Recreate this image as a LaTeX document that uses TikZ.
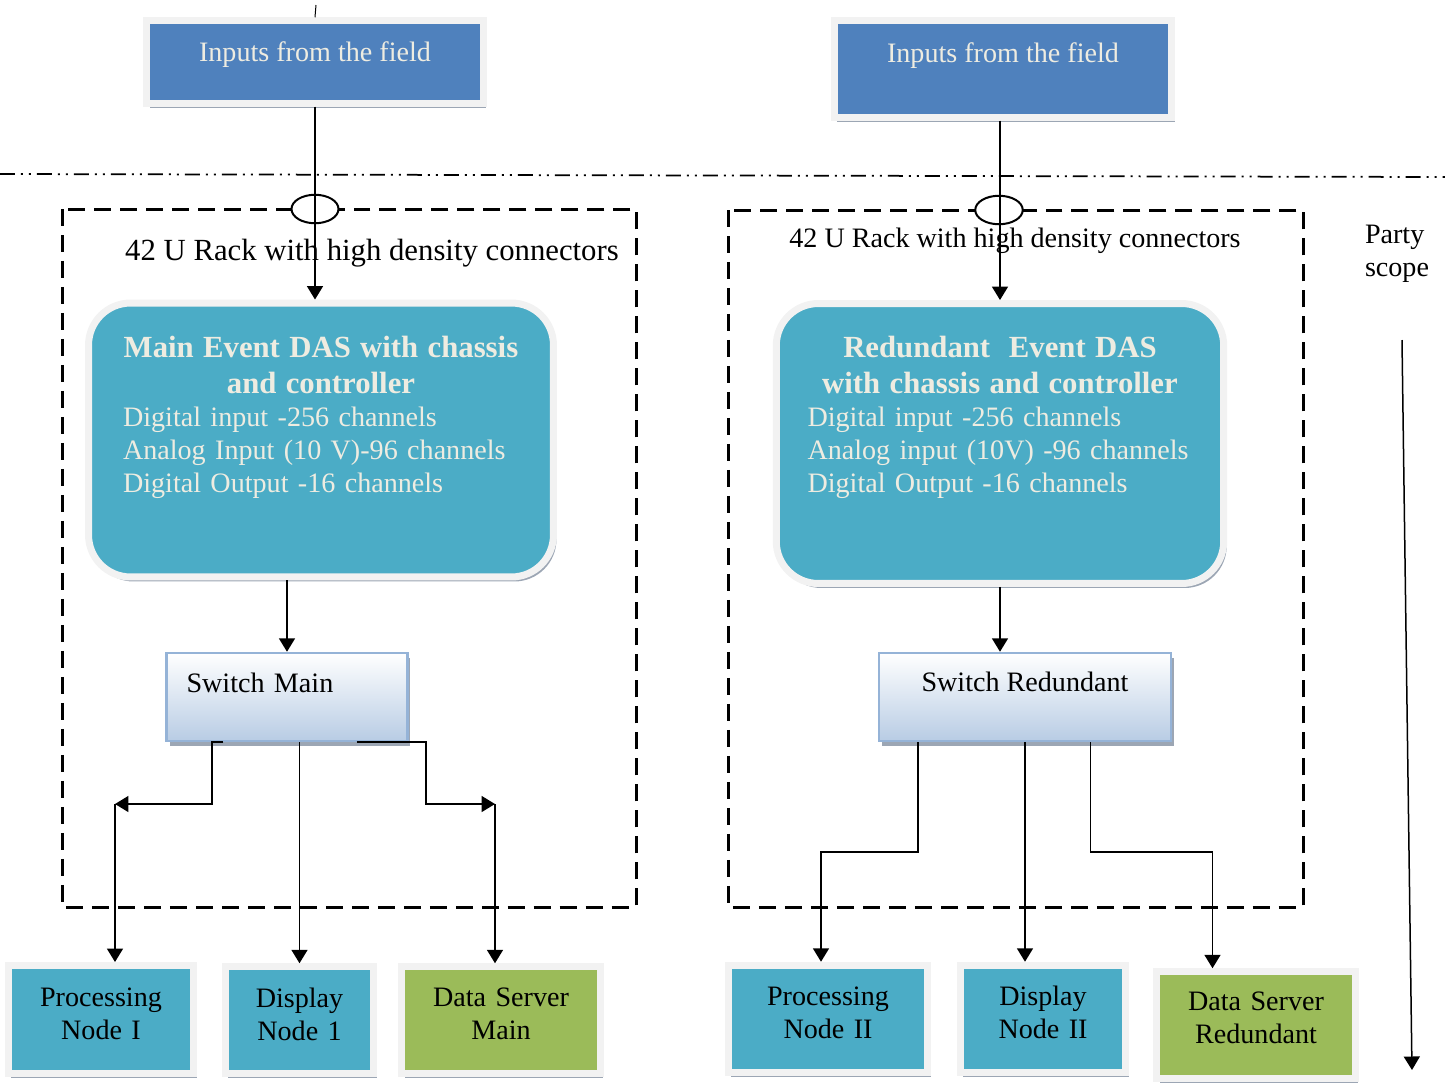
\documentclass[tikz,border=0pt]{standalone}
\usepackage{fontspec}
\setmainfont{Liberation Serif}
\usepackage{tikz}
\usetikzlibrary{positioning,shapes,arrows.meta,shadows,calc}

\definecolor{inblue}{HTML}{4F81BD}
\definecolor{dasteal}{HTML}{4BACC6}
\definecolor{srvgreen}{HTML}{9BBB59}
\definecolor{framegray}{HTML}{F2F2F2}
\definecolor{shadowgray}{HTML}{9CA6B4}
\definecolor{cream}{HTML}{EEECE1}
\definecolor{swbottom}{HTML}{B8CCE4}
\definecolor{swline}{HTML}{95B3D7}

\newcommand{\bodyfont}{\fontsize{16}{18.8}\selectfont}
\newcommand{\headfont}{\fontsize{17.5}{20.5}\selectfont\bfseries}

\tikzstyle{framed}=[%
      rectangle, draw=framegray, line width=0.14cm, inner ysep=0pt,
      drop shadow={shadow xshift=0.06cm, shadow yshift=-0.09cm, fill=shadowgray, opacity=1}
]
\tikzstyle{inbox}=[framed, fill=inblue, text=cream]
\tikzstyle{dasbox}=[framed, fill=dasteal, text=cream, rounded corners=0.84cm, align=left]
\tikzstyle{swbox}=[%
      rectangle, draw=swline, line width=0.05cm, top color=white, bottom color=swbottom,
      drop shadow={shadow xshift=0.06cm, shadow yshift=-0.1cm, fill=shadowgray, opacity=1},
      inner ysep=0pt, minimum height=1.76cm
]
\tikzstyle{nodebox}=[framed, fill=dasteal, align=center, inner xsep=0.1cm]
\tikzstyle{srvbox}=[framed, fill=srvgreen, align=center, inner xsep=0.1cm]

\begin{document}
\begin{tikzpicture}[auto,
    x=0.02cm, y=-0.02cm,
    >={Triangle[length=0.27cm, width=0.32cm]},
    every node/.style={font=\bodyfont},
    link/.style={->, line width=0.035cm},
    rack/.style={draw=black, line width=0.06cm, dash pattern=on 0.34cm off 0.18cm},
    border/.style={draw=black, line width=0.035cm,
      dash pattern=on 0.3cm off 0.12cm on 0.04cm off 0.12cm on 0.04cm off 0.12cm},
]
    \useasboundingbox (0,0) rectangle (1445,1083);

    % field inputs
    \node[inbox, minimum width=6.74cm, minimum height=1.65cm,
          text height=0.82cm, text depth=0.83cm] (in1) at (315,62)    {Inputs from the field};
    \node[inbox, minimum width=6.75cm, minimum height=1.93cm,
          text height=0.83cm, text depth=1.10cm] (in2) at (1003,69)   {Inputs from the field};

    \coordinate (t1) at (316,5);
    \draw[line width=0.02cm] (t1) -- (in1.north);

    % party border
    \coordinate (b1) at (0,174);
    \coordinate (b2) at (1445,177);
    \draw[border] (b1) -- (b2);

    % racks
    \draw[rack] (62,209) rectangle (636,907);
    \draw[rack] (728,210) rectangle (1303,907);
    \node[font=\fontsize{17.5}{21}\selectfont] (rack1) at (372,253) {42 U Rack with high density connectors};
    \node (rack2) at (1015,241) {42 U Rack with high density connectors};
    \node[draw, ellipse, fill=white, line width=0.04cm, inner sep=0pt,
          minimum width=0.94cm, minimum height=0.57cm] (plug1) at (315,209) {};
    \node[draw, ellipse, fill=white, line width=0.04cm, inner sep=0pt,
          minimum width=0.95cm, minimum height=0.57cm] (plug2) at (999,210) {};

    % DAS units
    \node[dasbox, minimum width=9.3cm, minimum height=5.48cm, text width=7.92cm, inner xsep=0.69cm,
          text height=1.09cm, text depth=4.39cm] (das1) at (321,440)
          {{\centering\headfont Main Event DAS with chassis\\and controller\par}%
           Digital input -256 channels\\Analog Input (10 V)-96 channels\\Digital Output -16 channels};
    \node[dasbox, minimum width=8.95cm, minimum height=5.6cm, text width=7.7cm, inner xsep=0.625cm,
          text height=1.08cm, text depth=4.52cm] (das2) at (1000,443.5)
          {{\centering\headfont Redundant~ Event DAS\\with chassis and controller\par}%
           Digital input -256 channels\\Analog input (10V) -96 channels\\Digital Output -16 channels};

    % switches
    \node[swbox, minimum width=4.82cm, text width=4.02cm, inner xsep=0.4cm, align=left,
          text height=0.78cm, text depth=0.98cm] (sw1) at (287,697)  {Switch Main};
    \node[swbox, minimum width=5.85cm,
          text height=0.76cm, text depth=1.0cm]  (sw2) at (1025,697) {Switch Redundant};

    % end nodes
    \node[nodebox, minimum width=3.71cm, minimum height=2.16cm, text width=3.51cm,
          text height=0.82cm, text depth=1.34cm] (pn1) at (101,1019.5)  {Processing\\Node I};
    \node[nodebox, minimum width=2.98cm, minimum height=2.13cm, text width=2.78cm,
          text height=0.81cm, text depth=1.32cm] (dn1) at (299.5,1020) {Display\\Node 1};
    \node[srvbox,  minimum width=3.97cm, minimum height=2.13cm, text width=3.77cm,
          text height=0.79cm, text depth=1.34cm] (ds1) at (501,1020)   {Data Server\\Main};
    \node[nodebox, minimum width=4.0cm,  minimum height=2.15cm, text width=3.8cm,
          text height=0.8cm, text depth=1.35cm]  (pn2) at (828,1019)   {Processing\\Node II};
    \node[nodebox, minimum width=3.32cm, minimum height=2.15cm, text width=3.12cm,
          text height=0.8cm, text depth=1.35cm]  (dn2) at (1043,1019)  {Display\\Node II};
    \node[srvbox,  minimum width=3.97cm, minimum height=2.13cm, text width=3.77cm,
          text height=0.77cm, text depth=1.36cm] (ds2) at (1256,1025)  {Data Server\\Redundant};

    \node[align=left] (scope) at (1397,254) {Party\\scope};

    % connections
    \draw[link] (in1.south) -- (in1.south |- das1.north);
    \draw[link] (in2.south -| das2.north) -- (das2.north);
    \draw[link] (sw1.north |- das1.south) -- (sw1.north);
    \draw[link] (das2.south) -- (das2.south |- sw2.north);

    \coordinate (j1) at (115,804);
    \coordinate (k1) at (212,804);
    \coordinate (j2) at (495,804);
    \coordinate (k2) at (426,804);
    \draw[link] (sw1.south west) ++(58,0) -| (k1) -- (j1);
    \draw[link] (j1) -- (j1 |- pn1.north);
    \draw[link] (dn1.north |- sw1.south) -- (dn1.north);
    \draw[link] (sw1.south east) ++(-52,0) -| (k2) -- (j2);
    \draw[link] (j2) -- (j2 |- ds1.north);

    \coordinate (k3) at (821,852);
    \coordinate (k4) at (1212.5,852);
    \draw[link] (sw2.south west) ++(40.5,0) |- (k3) -- (k3 |- pn2.north);
    \draw[link] (sw2.south) -- (sw2.south |- dn2.north);
    \draw[link] (sw2.south east) ++(-82,0) |- (k4) -- (k4 |- ds2.north);

    % scope arrow
    \coordinate (s1) at (1402,340);
    \coordinate (s2) at (1412,1070);
    \draw[link, line width=0.03cm] (s1) -- (s2);
\end{tikzpicture}
\end{document}
